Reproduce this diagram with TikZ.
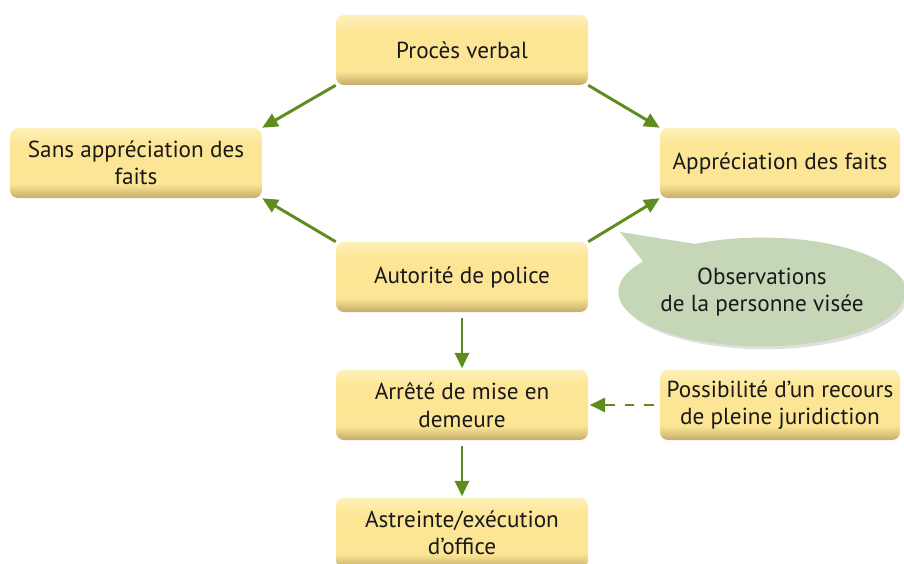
\documentclass[tikz,border=0pt]{standalone}
\usepackage{fontspec}
\setmainfont{PT Sans}
\usetikzlibrary{arrows.meta}
\usetikzlibrary{shapes.geometric,shapes.callouts}
\usetikzlibrary{shadows}

\definecolor{jauneclair}{RGB}{254,240,185}
\definecolor{jaune}{RGB}{253,229,150}
\definecolor{jaunefonce}{RGB}{196,172,106}
\definecolor{vertfleche}{RGB}{94,140,30}
\definecolor{vertbulle}{RGB}{197,215,183}

% bouton jaune, plus sombre en bas
\pgfdeclareverticalshading{bouton}{100bp}{color(0bp)=(jaunefonce); color(25bp)=(jaunefonce);
  color(35bp)=(jaune); color(63bp)=(jaune); color(75bp)=(jauneclair); color(100bp)=(jauneclair)}

\tikzset{
  etape/.style={draw=none, rounded corners=0.2cm, align=center, text=black!90,
    shading=bouton, font=\fontsize{16.5}{19.5}\selectfont},
  bulle/.style={ellipse callout, callout pointer arc=28, fill=vertbulle,
    minimum width=6.98cm, minimum height=2.72cm, inner sep=0pt, align=center,
    text=black!90, font=\fontsize{16.5}{19.5}\selectfont,
    drop shadow={shadow xshift=2pt, shadow yshift=-2pt, opacity=0.25}},
  fleche/.style={draw=vertfleche, line width=2.1pt, -{Triangle[length=11pt,width=10pt]}},
}

\begin{document}
\begin{tikzpicture}[x=0.025cm, y=-0.025cm]
\useasboundingbox (0,0) rectangle (904,564);

\begin{scope}[rectangle, minimum height=1.75cm, minimum width=6.3cm]
  \node[etape] (PV)   at (462, 50) {Procès verbal};
  \node[etape] (SANS) at (136,163) {Sans appréciation des\\faits};
  \node[etape] (POL)  at (462,277) {Autorité de police};
  \node[etape] (ARR)  at (462,405) {Arrêté de mise en\\demeure};
  \node[etape] (AST)  at (462,533) {Astreinte/exécution\\d’office};
\end{scope}

\begin{scope}[rectangle, minimum height=1.75cm, minimum width=6cm]
  \node[etape] (APP) at (780,163) {Appréciation des faits};
  \node[etape] (REC) at (780,405) {Possibilité d’un recours\\de pleine juridiction};
\end{scope}

\node[bulle, callout absolute pointer={(620,232)}] (OBS) at (762,292) {Observations\\de la personne visée};

\begin{scope}[fleche]
\draw (PV.south west)  -- (SANS.north east);
\draw (PV.south east)  -- (APP.north west);
\draw (POL.north west) -- (SANS.south east);
\draw (POL.north east) -- (APP.south west);
\end{scope}

\begin{scope}[fleche, shorten <=4pt, shorten >=1pt]
\draw (POL.south) -- (ARR.north);
\draw (ARR.south) -- (AST.north);
\draw[dash pattern=on 7pt off 7pt] (REC.west) -- (ARR.east);
\end{scope}

\end{tikzpicture}
\end{document}
